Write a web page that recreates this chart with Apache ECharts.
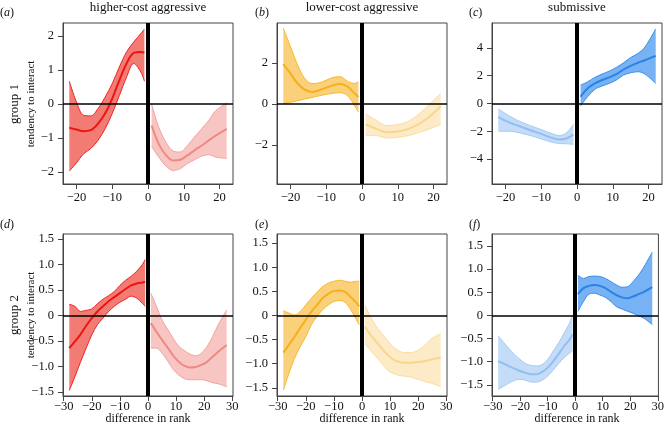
<!DOCTYPE html>
<html><head><meta charset="utf-8">
<script src="https://cdn.jsdelivr.net/npm/echarts@6/dist/echarts.min.js"></script>
<style>html,body{margin:0;padding:0;background:#fff}#c{width:667px;height:434px}</style>
</head><body><div id="c"></div>
<script>
// ---------- data ----------
const topTicks = [-20, -10, 0, 10, 20];
const botTicks = [-30, -20, -10, 0, 10, 20, 30];
const aTicks = [-2, -1, 0, 1, 2];
const bTicks = [-2, 0, 2];
const cTicks = [-4, -2, 0, 2, 4];
const defTicks = [-1.5, -1.0, -0.5, 0, 0.5, 1.0, 1.5];

// (a) higher-cost aggressive, group 1
const aLx = [-22, -20, -18, -16, -14, -12, -10, -8, -6, -4, -2, -1];
const aLmean = [-0.70, -0.75, -0.80, -0.77, -0.58, -0.28, 0.16, 0.70, 1.19, 1.50, 1.53, 1.51];
const aLlo = [-1.97, -1.73, -1.46, -1.31, -1.07, -0.73, -0.28, 0.25, 0.79, 1.19, 0.94, 0.67];
const aLhi = [0.67, 0.06, -0.33, -0.35, -0.14, 0.20, 0.60, 1.09, 1.53, 1.82, 2.07, 2.20];
const aRx = [1, 3, 5, 7, 9, 11, 13, 15, 17, 19, 22];
const aRmean = [-0.63, -1.17, -1.50, -1.66, -1.64, -1.51, -1.36, -1.22, -1.07, -0.92, -0.73];
const aRlo = [-1.24, -1.56, -1.82, -1.95, -1.90, -1.75, -1.64, -1.53, -1.49, -1.56, -1.60];
const aRhi = [0.00, -0.68, -1.12, -1.38, -1.41, -1.22, -0.97, -0.73, -0.48, -0.19, 0.03];

// (b) lower-cost aggressive, group 1
const bLx = [-22, -20, -18, -16, -14, -12, -10, -8, -6, -4, -2, -1];
const bLmean = [1.95, 1.49, 1.00, 0.70, 0.59, 0.67, 0.80, 0.92, 0.97, 0.84, 0.51, 0.34];
const bLlo = [0.00, 0.08, 0.16, 0.24, 0.32, 0.40, 0.47, 0.53, 0.55, 0.40, -0.10, -0.39];
const bLhi = [3.70, 2.80, 1.90, 1.25, 1.00, 1.03, 1.16, 1.30, 1.33, 1.10, 1.00, 1.08];
const bRx = [1, 4, 7, 10, 13, 16, 19, 22];
const bRmean = [-1.00, -1.21, -1.38, -1.34, -1.21, -0.97, -0.60, -0.11];
const bRlo = [-1.54, -1.54, -1.66, -1.62, -1.54, -1.38, -1.21, -1.00];
const bRhi = [-0.48, -0.80, -1.05, -1.00, -0.84, -0.48, 0.02, 0.51];

// (c) submissive, group 1
const cLx = [-22, -19, -16, -13, -10, -7, -5, -3, -1];
const cLmean = [-0.98, -1.36, -1.64, -1.93, -2.19, -2.48, -2.60, -2.52, -2.24];
const cLlo = [-2.00, -2.00, -2.12, -2.31, -2.55, -2.79, -2.88, -2.90, -2.95];
const cLhi = [-0.40, -0.88, -1.29, -1.60, -1.88, -2.17, -2.31, -2.12, -1.52];
const cRx = [1, 3, 5, 7, 9, 11, 13, 15, 17, 19, 22];
const cRmean = [0.50, 1.10, 1.45, 1.69, 1.88, 2.12, 2.45, 2.71, 2.93, 3.12, 3.43];
const cRlo = [-0.17, 0.50, 1.02, 1.26, 1.45, 1.69, 2.05, 2.21, 2.29, 2.12, 1.45];
const cRhi = [1.33, 1.57, 1.88, 2.12, 2.33, 2.60, 2.93, 3.31, 3.60, 4.07, 5.38];

// (d) higher-cost aggressive, group 2
const dLx = [-28, -26, -24, -22, -20, -18, -16, -14, -12, -10, -8, -6, -4, -2, -1];
const dLmean = [-0.64, -0.51, -0.37, -0.20, -0.05, 0.08, 0.18, 0.28, 0.36, 0.44, 0.52, 0.59, 0.63, 0.65, 0.66];
const dLlo = [-1.47, -1.20, -0.91, -0.64, -0.38, -0.18, -0.05, 0.08, 0.18, 0.26, 0.32, 0.38, 0.34, 0.24, 0.18];
const dLhi = [0.22, 0.18, 0.08, 0.10, 0.13, 0.23, 0.32, 0.39, 0.47, 0.59, 0.69, 0.77, 0.87, 1.00, 1.10];
const dRx = [1, 3, 5, 7, 9, 11, 13, 15, 17, 19, 21, 23, 25, 28];
const dRmean = [-0.15, -0.32, -0.48, -0.63, -0.79, -0.91, -0.99, -1.02, -1.01, -0.97, -0.91, -0.81, -0.71, -0.58];
const dRlo = [-0.64, -0.64, -0.74, -0.89, -1.06, -1.17, -1.24, -1.26, -1.26, -1.26, -1.28, -1.32, -1.34, -1.40];
const dRhi = [0.44, 0.18, -0.09, -0.27, -0.45, -0.61, -0.69, -0.76, -0.79, -0.74, -0.61, -0.41, -0.18, 0.11];

// (e) lower-cost aggressive, group 2
const eLx = [-28, -26, -24, -22, -20, -18, -16, -14, -12, -10, -8, -6, -4, -2, -1];
const eLmean = [-0.77, -0.61, -0.44, -0.26, -0.09, 0.08, 0.22, 0.36, 0.45, 0.51, 0.52, 0.49, 0.38, 0.26, 0.19];
const eLlo = [-1.55, -1.20, -0.89, -0.65, -0.44, -0.19, -0.02, 0.12, 0.22, 0.29, 0.31, 0.27, 0.12, -0.09, -0.19];
const eLhi = [0.10, 0.05, 0.01, 0.08, 0.22, 0.36, 0.48, 0.60, 0.67, 0.71, 0.73, 0.71, 0.69, 0.71, 0.71];
const eRx = [1, 3, 5, 7, 9, 11, 13, 15, 17, 19, 21, 23, 25, 28];
const eRmean = [-0.23, -0.40, -0.54, -0.68, -0.81, -0.91, -0.96, -0.98, -0.98, -0.97, -0.96, -0.94, -0.91, -0.87];
const eRlo = [-0.58, -0.72, -0.85, -0.99, -1.13, -1.20, -1.24, -1.26, -1.27, -1.31, -1.34, -1.38, -1.41, -1.48];
const eRhi = [0.22, -0.02, -0.22, -0.37, -0.51, -0.65, -0.73, -0.77, -0.77, -0.75, -0.68, -0.58, -0.47, -0.38];

// (f) submissive, group 2
const fLx = [-28, -26, -24, -22, -20, -18, -16, -14, -12, -10, -8, -6, -4, -2, -1];
const fLmean = [-0.99, -1.04, -1.10, -1.15, -1.20, -1.24, -1.27, -1.27, -1.22, -1.13, -0.99, -0.83, -0.66, -0.52, -0.41];
const fLlo = [-1.60, -1.53, -1.46, -1.40, -1.38, -1.40, -1.44, -1.44, -1.40, -1.31, -1.18, -1.04, -0.91, -0.81, -0.77];
const fLhi = [-0.44, -0.58, -0.72, -0.85, -0.95, -1.04, -1.08, -1.09, -1.06, -0.95, -0.77, -0.59, -0.38, -0.16, 0.01];
const fRx = [1, 3, 5, 7, 9, 11, 13, 15, 17, 19, 21, 23, 25, 28];
const fRmean = [0.46, 0.59, 0.64, 0.66, 0.64, 0.59, 0.51, 0.44, 0.39, 0.37, 0.41, 0.46, 0.51, 0.61];
const fRlo = [0.09, 0.30, 0.46, 0.48, 0.44, 0.39, 0.30, 0.19, 0.14, 0.09, 0.05, -0.01, -0.06, -0.20];
const fRhi = [0.87, 0.80, 0.84, 0.85, 0.84, 0.80, 0.73, 0.66, 0.61, 0.62, 0.73, 0.87, 1.05, 1.37];

const titles = ['higher-cost aggressive', 'lower-cost aggressive', 'submissive'];
const panelLetters = ['a', 'b', 'c', 'd', 'e', 'f'];
const rowLabels = ['group 1', 'group 2'];
const yName = 'tendency to interact';
const xName = 'difference in rank';

// ---------- styles ----------
const SERIF = '"Liberation Serif", "DejaVu Serif", serif';
const red = { dark: { fill: '#F27C74', edge: '#F22020', mean: '#EE1414' }, light: { fill: '#F8C6C2', edge: '#F3A29D', mean: '#EE8983' } };
const yel = { dark: { fill: '#FAD07A', edge: '#F7BA2C', mean: '#F5B01A' }, light: { fill: '#FCEBC6', edge: '#FADDA2', mean: '#F8D68C' } };
const blu = { dark: { fill: '#76B2F4', edge: '#3A8EEA', mean: '#2A82E2' }, light: { fill: '#C4DCF8', edge: '#A6CBF4', mean: '#93BEF0' } };

const lefts = [63, 277, 492];
const tops = [23, 234];
const W = 170, H = [161, 162];
const labelMargin = [7, 4];

const panels = [
  { x: [-23.76, 23.76], y: [-2.35, 2.38], yt: aTicks, xt: topTicks, dec: false, col: red,
    L: [aLx, aLlo, aLhi, aLmean], R: [aRx, aRlo, aRhi, aRmean], darkSide: 'L' },
  { x: [-23.76, 23.76], y: [-3.9, 3.95], yt: bTicks, xt: topTicks, dec: false, col: yel,
    L: [bLx, bLlo, bLhi, bLmean], R: [bRx, bRlo, bRhi, bRmean], darkSide: 'L' },
  { x: [-23.76, 23.76], y: [-5.8, 5.8], yt: cTicks, xt: topTicks, dec: false, col: blu,
    L: [cLx, cLlo, cLhi, cLmean], R: [cRx, cRlo, cRhi, cRmean], darkSide: 'R' },
  { x: [-30.24, 30.24], y: [-1.58, 1.6], yt: defTicks, xt: botTicks, dec: true, col: red,
    L: [dLx, dLlo, dLhi, dLmean], R: [dRx, dRlo, dRhi, dRmean], darkSide: 'L' },
  { x: [-30.24, 30.24], y: [-1.67, 1.69], yt: defTicks, xt: botTicks, dec: true, col: yel,
    L: [eLx, eLlo, eLhi, eLmean], R: [eRx, eRlo, eRhi, eRmean], darkSide: 'L' },
  { x: [-30.24, 30.24], y: [-1.74, 1.76], yt: defTicks, xt: botTicks, dec: true, col: blu,
    L: [fLx, fLlo, fLhi, fLmean], R: [fRx, fRlo, fRhi, fRmean], darkSide: 'R' }
];

function fmt(v, dec) {
  if (v === 0) return '0';
  let s = dec ? v.toFixed(1) : String(v);
  return s.replace('-', '\u2212');
}

const grid = [], xAxis = [], yAxis = [], series = [];
panels.forEach((p, i) => {
  const row = Math.floor(i / 3), colI = i % 3;
  grid.push({ left: lefts[colI], top: tops[row], width: W, height: H[row], show: true,
    borderColor: '#444', borderWidth: 1, backgroundColor: 'transparent', containLabel: false });
  xAxis.push({ type: 'value', gridIndex: i, min: p.x[0], max: p.x[1], splitLine: { show: false },
    axisLine: { show: true, onZero: false, lineStyle: { color: '#444', width: 1 } },
    axisTick: { show: true, length: 5, customValues: p.xt, lineStyle: { color: '#444' } },
    axisLabel: { customValues: p.xt, margin: labelMargin[row], color: '#111', fontFamily: SERIF, fontSize: 12.5,
      formatter: v => fmt(v, false) } });
  yAxis.push({ type: 'value', gridIndex: i, min: p.y[0], max: p.y[1], splitLine: { show: false },
    axisLine: { show: true, onZero: false, lineStyle: { color: '#444', width: 1 } },
    axisTick: { show: true, length: 5, customValues: p.yt, lineStyle: { color: '#444' } },
    axisLabel: { customValues: p.yt, margin: 9, color: '#111', fontFamily: SERIF, fontSize: 12.5,
      formatter: v => fmt(v, p.dec) } });
  ['L', 'R'].forEach(side => {
    const [xs, lo, hi, mean] = p[side];
    const c = side === p.darkSide ? p.col.dark : p.col.light;
    const stackId = 'st' + i + side;
    // value stored first so that the stack is applied to the y dimension
    const common = { type: 'line', xAxisIndex: i, yAxisIndex: i, smooth: 0.35, symbol: 'none', silent: true,
      animation: false, encode: { x: 1, y: 0 } };
    series.push(Object.assign({}, common, { data: xs.map((x, k) => [lo[k], x]), stack: stackId, stackStrategy: 'all',
      lineStyle: { color: c.edge, width: 1 }, z: 2 }));
    series.push(Object.assign({}, common, { data: xs.map((x, k) => [+(hi[k] - lo[k]).toFixed(3), x]), stack: stackId, stackStrategy: 'all',
      lineStyle: { color: c.edge, width: 1 }, areaStyle: { color: c.fill, opacity: 1 }, z: 2 }));
    series.push(Object.assign({}, common, { data: xs.map((x, k) => [mean[k], x]),
      lineStyle: { color: c.mean, width: 2 }, z: 3 }));
  });
  // reference lines at zero
  series.push({ type: 'line', xAxisIndex: i, yAxisIndex: i, data: [], silent: true, animation: false, z: 10,
    markLine: { symbol: 'none', silent: true, animation: false, label: { show: false },
      data: [
        { yAxis: 0, lineStyle: { color: '#000', width: 1.6, type: 'solid' } },
        { xAxis: 0, lineStyle: { color: '#000', width: 4, type: 'solid' } }
      ] } });
});

const graphic = [];
const centers = lefts.map(l => l + W / 2);
titles.forEach((t, k) => graphic.push({ type: 'text', x: centers[k], y: 8,
  style: { text: t, font: '13px ' + SERIF, fill: '#111', textAlign: 'center', textVerticalAlign: 'middle' } }));
centers.forEach(cx => graphic.push({ type: 'text', x: cx, y: 419,
  style: { text: xName, font: '12px ' + SERIF, fill: '#111', textAlign: 'center', textVerticalAlign: 'middle' } }));
const letterPos = [[0, 13], [255, 13], [469, 13], [0, 225], [255, 225], [469, 225]];
panelLetters.forEach((l, k) => graphic.push({ type: 'text', x: letterPos[k][0], y: letterPos[k][1],
  style: { text: '{p|(}{i|' + l + '}{p|)}', textVerticalAlign: 'middle', fill: '#111',
    rich: { p: { fontFamily: SERIF, fontSize: 12, fill: '#111' }, i: { fontFamily: SERIF, fontSize: 12, fontStyle: 'italic', fill: '#111' } } } }));
const rowCenters = [104, 315];
rowLabels.forEach((r, k) => {
  graphic.push({ type: 'text', x: 15, y: rowCenters[k], rotation: Math.PI / 2,
    style: { text: r, font: '13px ' + SERIF, fill: '#111', textAlign: 'center', textVerticalAlign: 'middle' } });
  graphic.push({ type: 'text', x: 31, y: rowCenters[k], rotation: Math.PI / 2,
    style: { text: yName, font: '11px ' + SERIF, fill: '#111', textAlign: 'center', textVerticalAlign: 'middle' } });
});

const chart = echarts.init(document.getElementById('c'), null, { renderer: 'canvas' });
chart.setOption({ animation: false, backgroundColor: '#fff', grid, xAxis, yAxis, series, graphic });
</script></body></html>
